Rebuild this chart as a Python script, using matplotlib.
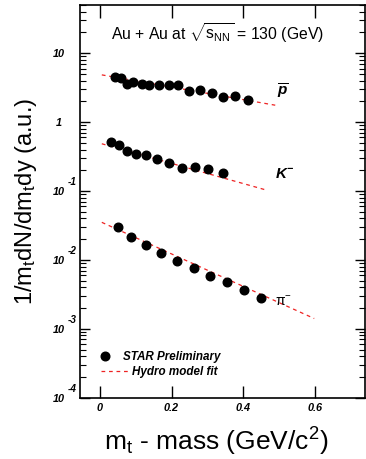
import matplotlib
matplotlib.use("Agg")
import matplotlib.pyplot as plt
import matplotlib.transforms as mtransforms
from matplotlib.ticker import FixedLocator, FixedFormatter, LogLocator, NullFormatter

plt.rcParams['font.family'] = ['Liberation Sans', 'DejaVu Sans']
plt.rcParams['mathtext.fontset'] = 'custom'
plt.rcParams['mathtext.rm'] = 'Liberation Sans'
plt.rcParams['mathtext.it'] = 'Liberation Sans:italic'
plt.rcParams['mathtext.bf'] = 'Liberation Sans:bold:italic'
plt.rcParams['mathtext.default'] = 'regular'

# ---- data ----
pbar_x = [0.042, 0.058, 0.075, 0.093, 0.116, 0.138, 0.165, 0.192, 0.218, 0.249, 0.280, 0.312, 0.345, 0.378, 0.415]
pbar_y = [4.58, 4.31, 3.59, 3.84, 3.56, 3.51, 3.51, 3.44, 3.44, 2.81, 2.91, 2.66, 2.33, 2.38, 2.10]
kaon_x = [0.031, 0.052, 0.075, 0.101, 0.129, 0.159, 0.193, 0.229, 0.265, 0.303, 0.343]
kaon_y = [0.513, 0.464, 0.375, 0.348, 0.336, 0.287, 0.255, 0.218, 0.221, 0.208, 0.184]
pion_x = [0.050, 0.086, 0.128, 0.170, 0.216, 0.262, 0.308, 0.355, 0.403, 0.451]
pion_y = [0.0302, 0.0215, 0.01655, 0.0125, 0.00961, 0.00754, 0.00592, 0.00482, 0.00369, 0.00277]

# hydro fit lines (straight on log scale), endpoints
pbar_fit_x = [0.005, 0.49]
pbar_fit_y = [4.85, 1.76]
kaon_fit_x = [0.005, 0.4615]
kaon_fit_y = [0.485, 0.1045]
pion_fit_x = [0.005, 0.599]
pion_fit_y = [0.0351, 0.00141]

xticks = [0, 0.2, 0.4, 0.6]
xticklabels = ['0', '0.2', '0.4', '0.6']
yticks = [1e1, 1e0, 1e-1, 1e-2, 1e-3, 1e-4]
yticklabels = ['10', '1', '10', '10', '10', '10']
yexponents = ['', '', '-1', '-2', '-3', '-4']

fig = plt.figure(figsize=(3.66, 4.59), dpi=100)
ax = fig.add_axes([80/366, 1-397.7/459, 285/366, 392.7/459])
ax.set_yscale('log')
ax.set_xlim(-0.056, 0.741)
ax.set_ylim(1e-4, 10**1.7)

ms = 6.2
red = '#ee2222'
for fx, fy in [(pbar_fit_x, pbar_fit_y), (kaon_fit_x, kaon_fit_y), (pion_fit_x, pion_fit_y)]:
    ax.plot(fx, fy, color=red, ls=(0, (3, 3)), lw=0.9, zorder=2)
fit_handle, = ax.plot([], [], color=red, ls=(0, (3, 3)), lw=0.9)
for x, y in [(pbar_x, pbar_y), (kaon_x, kaon_y), (pion_x, pion_y)]:
    ax.plot(x, y, 'o', color='black', ms=ms, zorder=3)
pt_handle, = ax.plot([], [], 'o', color='black', ms=ms)

# ticks
ax.xaxis.set_major_locator(FixedLocator(xticks))
ax.xaxis.set_major_formatter(FixedFormatter(xticklabels))
ax.yaxis.set_major_locator(FixedLocator(yticks))
ax.yaxis.set_major_formatter(FixedFormatter(yticklabels))
ax.yaxis.set_minor_locator(LogLocator(base=10, subs=range(2, 10), numticks=20))
ax.yaxis.set_minor_formatter(NullFormatter())
ax.tick_params(axis='both', which='both', direction='in', top=True, right=True)
ax.tick_params(axis='x', which='major', length=9, width=1.0, pad=4)
ax.tick_params(axis='y', which='major', length=7, width=1.0, pad=15)
ax.tick_params(axis='y', which='minor', length=4, width=0.8)
for lab in ax.get_xticklabels() + ax.get_yticklabels():
    lab.set_fontsize(7.8)
    lab.set_fontweight('bold')
    lab.set_fontstyle('italic')
for lab in ax.get_yticklabels():
    lab.set_horizontalalignment('center')
for sp in ax.spines.values():
    sp.set_linewidth(1.2)

# exponents of the y tick labels
trans = mtransforms.blended_transform_factory(ax.transAxes, ax.transData) + \
    mtransforms.ScaledTranslation(0, 9/100, fig.dpi_scale_trans)
for yv, ex in zip(yticks, yexponents):
    if ex:
        ax.text(-0.042, yv, ex, transform=trans, ha='left', va='center',
                fontsize=7.2, fontweight='bold', fontstyle='italic', clip_on=False)

# labels
ax.set_xlabel(r'm$_{t}$ - mass (GeV/c$^{2}$)', fontsize=19)
ax.xaxis.set_label_coords(0.479, -0.112, transform=ax.transAxes)
ax.xaxis.label.set_va('center')
ax.set_ylabel(r'1/m$_{t}$dN/dm$_{t}$dy (a.u.)', fontsize=17, labelpad=10)

ax.text(0.482, 0.929, r'Au + Au at $\sqrt{s_{NN}}$ = 130 (GeV)', transform=ax.transAxes,
        ha='center', va='center', fontsize=11.3)

# particle labels
ax.text(0.511, 2.77, r'$\overline{\mathbf{p}}$', fontsize=11, ha='center', va='center')
ax.text(0.517, 0.178, r'$\mathbf{K}^{\mathbf{-}}$', fontsize=11, ha='center', va='center')
ax.text(0.513, 0.0025, r'$\pi^{-}$', fontsize=10, ha='center', va='center',
        math_fontfamily='dejavuserif')

lp = {'size': 8.4, 'weight': 'bold', 'style': 'italic'}
leg1 = ax.legend([pt_handle], ['STAR Preliminary'], loc='center left',
                 bbox_to_anchor=(0.0674, 0.1036), frameon=False, borderpad=0,
                 borderaxespad=0, handlelength=1.0, handletextpad=1.05, prop=lp)
ax.add_artist(leg1)
ax.legend([fit_handle], ['Hydro model fit'], loc='center left',
          bbox_to_anchor=(0.0737, 0.0654), frameon=False, borderpad=0,
          borderaxespad=0, handlelength=2.31, handletextpad=0.34, prop=lp)

fig.savefig('out.png', dpi=100)
